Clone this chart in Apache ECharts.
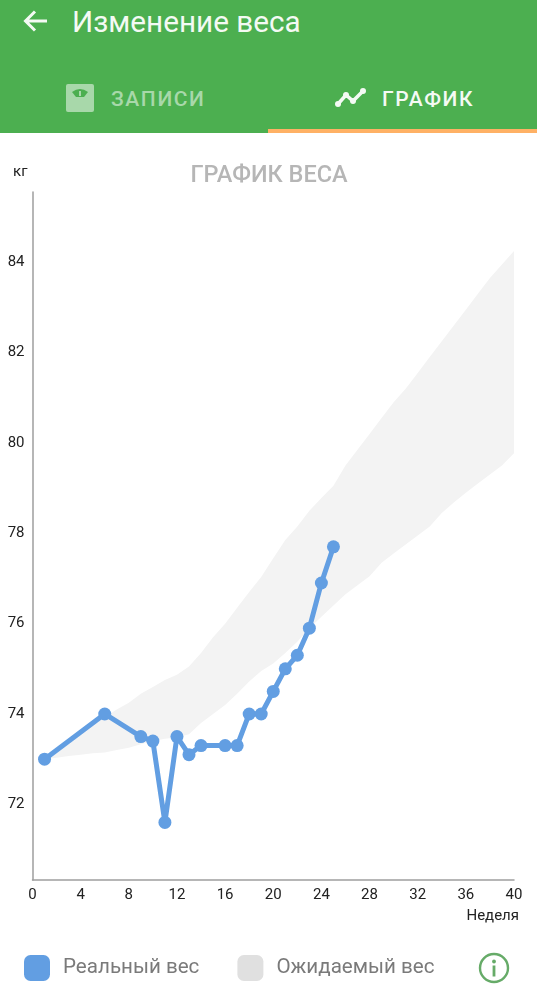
<!DOCTYPE html>
<html>
<head>
<meta charset="utf-8">
<script src="https://cdn.jsdelivr.net/npm/echarts@6/dist/echarts.min.js"></script>
<style>
html, body { margin: 0; padding: 0; background: #fff; font-family: Roboto, sans-serif; overflow: hidden; }
#chart { position: absolute; left: 0; top: 0; width: 537px; height: 1000px; }
#header { position: absolute; left: 0; top: 0; width: 537px; height: 133px; background: #4caf50; z-index: 2; }
#header div, #header svg { position: absolute; }
#pageTitle { left: 72px; top: 4px; font-size: 29.7px; line-height: 36px; color: #f4faf4; white-space: nowrap; }
.tab { top: 85px; font-size: 21px; line-height: 28px; font-weight: 500; letter-spacing: 1.6px; white-space: nowrap; }
#tabUnderline { left: 268px; top: 129px; width: 269px; height: 4px; background: #ffb165; }
#infoIcon { position: absolute; left: 478px; top: 952px; z-index: 2; }
</style>
</head>
<body>
<div id="chart"></div>
<div id="header">
    <svg style="left:22px;top:7px" width="30" height="30" viewBox="0 0 30 30">
        <path d="M25 14H4M13 4.5L3.5 14L13 23.5" fill="none" stroke="#f4faf4" stroke-width="3"/>
    </svg>
    <div id="pageTitle">Изменение веса</div>
    <svg style="left:66px;top:84px" width="28" height="28" viewBox="0 0 28 28">
        <rect width="28" height="28" rx="2" fill="#a8d8aa"/>
        <path d="M6 8Q14 2 22 8L18 13H10Z" fill="#4caf50"/>
        <path d="M14 7V12" stroke="#a8d8aa" stroke-width="2"/>
    </svg>
    <div class="tab" style="left:111px;color:#a8d8aa">ЗАПИСИ</div>
    <svg style="left:333px;top:86px" width="34" height="24" viewBox="0 0 34 24">
        <path d="M5 18L13 9L20 15L30 5" fill="none" stroke="#f4faf4" stroke-width="3.5"/>
        <circle cx="5" cy="18" r="3" fill="#f4faf4"/><circle cx="13" cy="9" r="3" fill="#f4faf4"/>
        <circle cx="20" cy="15" r="3" fill="#f4faf4"/><circle cx="30" cy="5" r="3" fill="#f4faf4"/>
    </svg>
    <div class="tab" style="left:382px;color:#f4faf4;">ГРАФИК</div>
    <div id="tabUnderline"></div>
</div>
<svg id="infoIcon" width="32" height="32" viewBox="0 0 32 32">
    <circle cx="16" cy="16" r="14" fill="none" stroke="#66ab68" stroke-width="2.4"/>
    <rect x="14.6" y="13.5" width="2.8" height="11" fill="#66ab68"/>
    <circle cx="16" cy="9.5" r="1.9" fill="#66ab68"/>
</svg>
<script>
const realWeeks = [1, 6, 9, 10, 11, 12, 13, 14, 16, 17, 18, 19, 20, 21, 22, 23, 24, 25];
const realWeight = [73, 74, 73.5, 73.4, 71.6, 73.5, 73.1, 73.3, 73.3, 73.3, 74, 74, 74.5, 75, 75.3, 75.9, 76.9, 77.7];

const bandWeeks = [1, 2, 3, 4, 5, 6, 7, 8, 9, 10, 11, 12, 13, 14, 15, 16, 17, 18, 19, 20,
    21, 22, 23, 24, 25, 26, 27, 28, 29, 30, 31, 32, 33, 34, 35, 36, 37, 38, 39, 40];
const bandLower = [73, 73.03, 73.07, 73.1, 73.13, 73.15, 73.2, 73.25, 73.33, 73.4,
    73.45, 73.48, 73.55, 73.8, 74, 74.2, 74.45, 74.72, 74.95, 75.12,
    75.35, 75.6, 75.9, 76.15, 76.4, 76.65, 76.85, 77.05, 77.35, 77.55,
    77.75, 77.95, 78.15, 78.45, 78.68, 78.9, 79.1, 79.3, 79.5, 79.77];
const bandUpper = [73, 73.2, 73.4, 73.55, 73.75, 73.93, 74.1, 74.25, 74.45, 74.6,
    74.75, 74.87, 75.05, 75.35, 75.7, 76, 76.35, 76.7, 77.03, 77.45,
    77.85, 78.15, 78.5, 78.78, 79.05, 79.5, 79.85, 80.2, 80.55, 80.9,
    81.2, 81.55, 81.9, 82.25, 82.6, 82.95, 83.3, 83.65, 83.95, 84.25];

const weightTicks = [72, 74, 76, 78, 80, 82, 84];

const renderBand = (params, api) => {
    // whole band is one polygon, drawn once
    if (params.dataIndex !== 0) return null;
    const top = bandWeeks.map((w, i) => api.coord([w, bandUpper[i]]));
    const bottom = bandWeeks.map((w, i) => api.coord([w, bandLower[i]])).reverse();
    return {
        type: "polygon",
        shape: { points: top.concat(bottom) },
        style: { fill: "#f3f3f3" }
    };
};

const myChart = echarts.init(document.getElementById("chart"));

myChart.setOption({
    animation: false,
    title: {
        text: "ГРАФИК ВЕСА",
        left: 264,
        top: 159,
        textAlign: "center",
        textStyle: { fontFamily: "Roboto", fontSize: 23.5, fontWeight: 500, color: "#b6b6b6" }
    },
    legend: {
        left: 19,
        top: 950,
        itemWidth: 26,
        itemHeight: 26,
        itemGap: 38,
        selectedMode: false,
        textStyle: { fontFamily: "Roboto", fontSize: 20.6, color: "#7a7a7a", padding: [0, 0, 0, 8] },
        data: [
            { name: "Реальный вес", icon: "roundRect", itemStyle: { color: "#629ee2" } },
            { name: "Ожидаемый вес", icon: "roundRect", itemStyle: { color: "#e0e0e0" } }
        ]
    },
    grid: { left: 32.5, right: 23, top: 192, bottom: 120 },
    xAxis: {
        type: "value",
        min: 0,
        max: 40,
        interval: 4,
        name: "Неделя",
        nameLocation: "end",
        nameGap: 5,
        nameTextStyle: { fontFamily: "Roboto", fontSize: 15, color: "#222", align: "right", verticalAlign: "top", padding: [29, 0, 0, 0] },
        axisLine: { lineStyle: { color: "#9e9e9e", width: 1.5 } },
        axisTick: { show: false },
        axisLabel: { fontFamily: "Roboto", fontSize: 15, color: "#222", margin: 8 },
        splitLine: { show: false }
    },
    yAxis: {
        type: "value",
        min: 70.325,
        max: 85.555,
        name: "кг",
        nameLocation: "end",
        nameGap: 12,
        nameTextStyle: { fontFamily: "Roboto", fontSize: 15, color: "#222", align: "right", padding: [0, 5, 0, 0] },
        axisLine: { show: true, lineStyle: { color: "#9e9e9e", width: 1.5 } },
        axisTick: { show: false },
        axisLabel: { fontFamily: "Roboto", fontSize: 15, color: "#222", margin: 8, customValues: weightTicks },
        splitLine: { show: false }
    },
    series: [
        {
            name: "Ожидаемый вес",
            type: "custom",
            renderItem: renderBand,
            itemStyle: { color: "#e0e0e0" },
            encode: { x: 0, y: 1 },
            data: bandWeeks.map((w, i) => [w, bandUpper[i], bandLower[i]])
        },
        {
            name: "Реальный вес",
            type: "line",
            symbol: "circle",
            symbolSize: 13,
            lineStyle: { color: "#629ee2", width: 5 },
            itemStyle: { color: "#629ee2" },
            data: realWeeks.map((w, i) => [w, realWeight[i]])
        }
    ]
});
</script>
</body>
</html>
